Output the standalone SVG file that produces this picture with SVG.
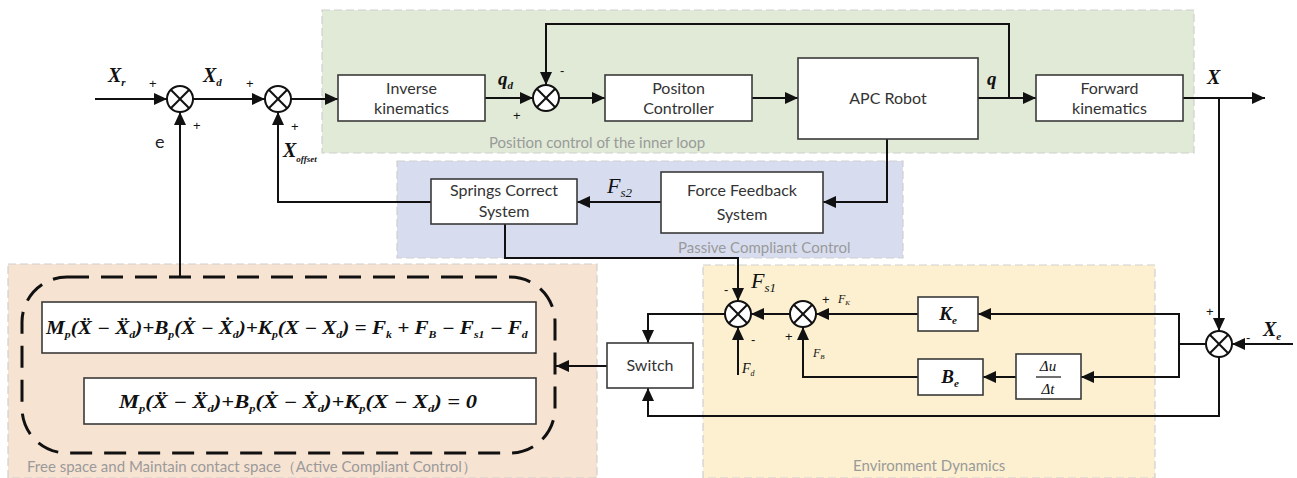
<svg xmlns="http://www.w3.org/2000/svg" xmlns:xlink="http://www.w3.org/1999/xlink" width="1297" height="478" viewBox="0 0 1297 478">
<style>
.region{stroke:#cfcfcf;stroke-width:1.2;stroke-dasharray:8 4}
.box{fill:#fff;stroke:#3a3a3a;stroke-width:1.6}
.lbl{font-family:Lato,"Open Sans",sans-serif;font-size:16px;fill:#333;text-anchor:middle}
.rlbl{font-family:Lato,"Open Sans",sans-serif;font-size:15px;fill:#9a9a9a}
.math{font-family:"Liberation Serif","DejaVu Serif",serif;font-weight:bold;font-style:italic;fill:#111}
.reg{font-weight:normal}
.sign{font-family:"Liberation Sans",sans-serif;font-size:13px;fill:#111}
.wire{fill:none;stroke:#111;stroke-width:2}
</style>
<defs>
<marker id="ah" markerUnits="userSpaceOnUse" markerWidth="14" markerHeight="12" refX="13" refY="6" orient="auto">
<path d="M0,0 L13,6 L0,12 z" fill="#111"/>
</marker>
<g id="sj">
<circle cx="0" cy="0" r="13" fill="#fff" stroke="#111" stroke-width="2"/>
<line x1="-9.2" y1="-9.2" x2="9.2" y2="9.2" stroke="#111" stroke-width="2"/>
<line x1="-9.2" y1="9.2" x2="9.2" y2="-9.2" stroke="#111" stroke-width="2"/>
</g>
</defs>
<rect width="1297" height="478" fill="#fff"/>
<g id="regions">
<rect class="region" x="322" y="10" width="872" height="143" fill="#e0ead6"/>
<rect class="region" x="397" y="161" width="506" height="97" fill="#d7ddef"/>
<rect class="region" x="8" y="264" width="589" height="214" fill="#f7e3d2"/>
<rect class="region" x="703" y="265" width="452" height="213" fill="#fcf0d0"/>
<text class="rlbl" x="489" y="148">Position control of the inner loop</text>
<text class="rlbl" x="678" y="253">Passive Compliant Control</text>
<text class="rlbl" x="27" y="472">Free space and Maintain contact space（Active Compliant Control）</text>
<text class="rlbl" x="853" y="471">Environment Dynamics</text>
</g>
<g id="connectors">
<path class="wire" d="M95,99 H167" marker-end="url(#ah)"/>
<path class="wire" d="M193,99 H265" marker-end="url(#ah)"/>
<path class="wire" d="M291,99 H338" marker-end="url(#ah)"/>
<path class="wire" d="M485,98 H533" marker-end="url(#ah)"/>
<path class="wire" d="M559,98 H605" marker-end="url(#ah)"/>
<path class="wire" d="M752,98 H798" marker-end="url(#ah)"/>
<path class="wire" d="M978,98 H1036" marker-end="url(#ah)"/>
<path class="wire" d="M1009,98 V24 H546 V85" marker-end="url(#ah)"/>
<path class="wire" d="M1183,98 H1265" marker-end="url(#ah)"/>
<path class="wire" d="M1219,98 V331" marker-end="url(#ah)"/>
<path class="wire" d="M1293,344 H1232" marker-end="url(#ah)"/>
<path class="wire" d="M1206,344 H1179"/>
<path class="wire" d="M1179,313 V378"/>
<path class="wire" d="M1179,314 H978" marker-end="url(#ah)"/>
<path class="wire" d="M1179,377 H1081" marker-end="url(#ah)"/>
<path class="wire" d="M1016,377 H983" marker-end="url(#ah)"/>
<path class="wire" d="M918,314 H816" marker-end="url(#ah)"/>
<path class="wire" d="M918,377 H803 V327" marker-end="url(#ah)"/>
<path class="wire" d="M790,314 H751" marker-end="url(#ah)"/>
<path class="wire" d="M505,224 V258 H738 V301" marker-end="url(#ah)"/>
<path class="wire" d="M738,375 V327" marker-end="url(#ah)"/>
<path class="wire" d="M725,314 H648 V343" marker-end="url(#ah)"/>
<path class="wire" d="M1219,357 V416 H648 V388" marker-end="url(#ah)"/>
<path class="wire" d="M607,366 H556" marker-end="url(#ah)"/>
<path class="wire" d="M180,277 V112" marker-end="url(#ah)"/>
<path class="wire" d="M887,139 V202 H823" marker-end="url(#ah)"/>
<path class="wire" d="M661,202 H577" marker-end="url(#ah)"/>
<path class="wire" d="M431,202 H278 V112" marker-end="url(#ah)"/>
</g>
<g id="sum1"><use href="#sj" x="180" y="99"/></g>
<g id="sum2"><use href="#sj" x="278" y="99"/></g>
<g id="sum3"><use href="#sj" x="546" y="98"/></g>
<g id="sumE"><use href="#sj" x="1219" y="344"/></g>
<g id="sumA"><use href="#sj" x="738" y="314"/></g>
<g id="sumB"><use href="#sj" x="803" y="314"/></g>
<g id="inverse"><rect class="box" x="338" y="75" width="147" height="46"/><text class="lbl" x="411.5" y="94">Inverse</text><text class="lbl" x="411.5" y="114">kinematics</text></g>
<g id="position"><rect class="box" x="605" y="75" width="147" height="46"/><text class="lbl" x="678.5" y="94">Positon</text><text class="lbl" x="678.5" y="114">Controller</text></g>
<g id="apc"><rect class="box" x="798" y="58" width="180" height="81"/><text class="lbl" x="888" y="104" font-size="17">APC Robot</text></g>
<g id="forward"><rect class="box" x="1036" y="75" width="147" height="46"/><text class="lbl" x="1109.5" y="94">Forward</text><text class="lbl" x="1109.5" y="114">kinematics</text></g>
<g id="springs"><rect class="box" x="431" y="179" width="146" height="45"/><text class="lbl" x="504" y="196">Springs Correct</text><text class="lbl" x="504" y="217">System</text></g>
<g id="force"><rect class="box" x="661" y="172" width="162" height="61"/><text class="lbl" x="742" y="196">Force Feedback</text><text class="lbl" x="742" y="220">System</text></g>
<g id="switch"><rect class="box" x="607" y="343" width="86" height="45"/><text class="lbl" x="650" y="371">Switch</text></g>
<g id="ke"><rect class="box" x="918" y="297" width="60" height="34"/><text class="math" x="948" y="320" font-size="19" text-anchor="middle">K<tspan font-size="11" dy="4">e</tspan></text></g>
<g id="be"><rect class="box" x="918" y="359" width="65" height="36"/><text class="math" x="950" y="383" font-size="19" text-anchor="middle">B<tspan font-size="11" dy="4">e</tspan></text></g>
<g id="deriv"><rect class="box" x="1016" y="354" width="65" height="45"/><text class="math reg" x="1048" y="371" font-size="15" text-anchor="middle">Δu</text><line x1="1036" y1="377" x2="1061" y2="377" stroke="#111" stroke-width="1.2"/><text class="math reg" x="1048" y="394" font-size="15" text-anchor="middle">Δt</text></g>
<g id="modes">
<rect x="22" y="277" width="533" height="176" rx="45" fill="none" stroke="#111" stroke-width="3" stroke-dasharray="22 12"/>
<rect class="box" x="42" y="302" width="494" height="51"/>
<rect class="box" x="84" y="378" width="452" height="46"/>
<text class="math" transform="translate(46,334) scale(1.175,1)" x="0" y="0" font-size="18">M<tspan font-size="10" dy="4">p</tspan><tspan dy="-4">(Ẍ − Ẍ</tspan><tspan font-size="10" dy="4">d</tspan><tspan dy="-4">)+B</tspan><tspan font-size="10" dy="4">p</tspan><tspan dy="-4">(Ẋ − Ẋ</tspan><tspan font-size="10" dy="4">d</tspan><tspan dy="-4">)+K</tspan><tspan font-size="10" dy="4">p</tspan><tspan dy="-4">(X − X</tspan><tspan font-size="10" dy="4">d</tspan><tspan dy="-4">) = F</tspan><tspan font-size="10" dy="4">k</tspan><tspan dy="-4"> + F</tspan><tspan font-size="10" dy="4">B</tspan><tspan dy="-4"> − F</tspan><tspan font-size="10" dy="4">s1</tspan><tspan dy="-4"> − F</tspan><tspan font-size="10" dy="4">d</tspan></text>
<text class="math" transform="translate(119,408) scale(1.25,1)" x="0" y="0" font-size="18">M<tspan font-size="10" dy="4">p</tspan><tspan dy="-4">(Ẍ − Ẍ</tspan><tspan font-size="10" dy="4">d</tspan><tspan dy="-4">)+B</tspan><tspan font-size="10" dy="4">p</tspan><tspan dy="-4">(Ẋ − Ẋ</tspan><tspan font-size="10" dy="4">d</tspan><tspan dy="-4">)+K</tspan><tspan font-size="10" dy="4">p</tspan><tspan dy="-4">(X − X</tspan><tspan font-size="10" dy="4">d</tspan><tspan dy="-4">) = 0</tspan></text>
</g>
<g id="labels">
<text class="math" x="108" y="82" font-size="20">X<tspan font-size="11" dy="4">r</tspan></text>
<text class="math" x="203" y="82" font-size="20">X<tspan font-size="11" dy="4">d</tspan></text>
<text x="155" y="148" font-family="Lato,sans-serif" font-size="18" fill="#222">e</text>
<text class="math" x="283" y="157" font-size="20">X<tspan font-size="9" dy="5">offset</tspan></text>
<text class="math" x="498" y="85" font-size="19">q<tspan font-size="11" dy="4">d</tspan></text>
<text class="math" x="987" y="85" font-size="19">q</text>
<text class="math" x="1207" y="84" font-size="20">X</text>
<text class="math" x="1263" y="336" font-size="20">X<tspan font-size="11" dy="4">e</tspan></text>
<text class="math reg" x="607" y="193" font-size="22">F<tspan font-size="13" dy="4">s2</tspan></text>
<text class="math reg" x="751" y="288" font-size="22">F<tspan font-size="13" dy="4">s1</tspan></text>
<text class="math reg" x="838" y="303" font-size="12">F<tspan font-size="7" dy="2">K</tspan></text>
<text class="math reg" x="813" y="357" font-size="12">F<tspan font-size="7" dy="2">B</tspan></text>
<text class="math reg" x="742" y="373" font-size="14">F<tspan font-size="8" dy="3">d</tspan></text>
<text class="sign" x="149" y="88">+</text>
<text class="sign" x="193" y="130">+</text>
<text class="sign" x="246" y="88">+</text>
<text class="sign" x="291" y="131">+</text>
<text class="sign" x="560" y="75">-</text>
<text class="sign" x="513" y="120">+</text>
<text class="sign" x="724" y="294">-</text>
<text class="sign" x="751" y="344">-</text>
<text class="sign" x="822" y="304">+</text>
<text class="sign" x="785" y="341">+</text>
<text class="sign" x="1206" y="316">+</text>
<text class="sign" x="1246" y="342">-</text>
</g>
</svg>
